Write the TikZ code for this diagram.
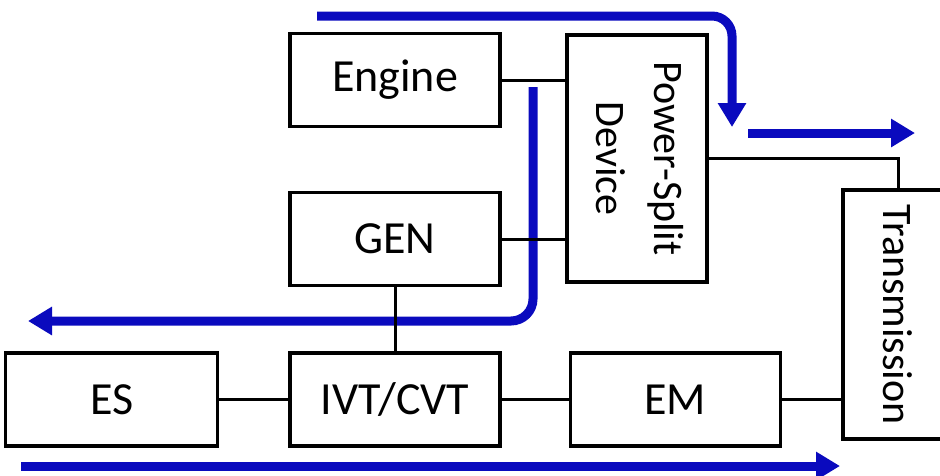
\documentclass[tikz,border=0pt]{standalone}
\usepackage{fontspec}
\setmainfont{Carlito}
\usetikzlibrary{arrows.meta,positioning}
\definecolor{flowblue}{HTML}{0A0ABE}

\begin{document}
\begin{tikzpicture}[
  x=1pt,y=-1pt,
  every node/.style={font=\fontsize{46}{55}\selectfont},
  blk/.style={draw,line width=3.2pt,minimum width=210pt,minimum height=93pt,inner sep=0pt},
  vtext/.style={font=\fontsize{42}{58}\selectfont},
  wire/.style={line width=3pt},
  flow/.style={flowblue,line width=9pt,-{Triangle[length=24pt,width=27pt]}}
]
\path[use as bounding box,clip] (0,0) rectangle (940,475);

\node[blk] (engine) at (395,80) {Engine};
\node[blk,below=63pt of engine] (gen) {GEN};
\node[blk,below=64pt of gen] (ivt) {IVT/CVT};
\node[blk,minimum width=212pt,left=69pt of ivt] (es) {ES};
\node[blk,right=67pt of ivt] (em) {EM};
\node[blk,vtext,minimum width=140pt,minimum height=247pt] (psd) at (637,158.5)
  {\rotatebox{-90}{\begin{tabular}{@{}c@{}}Power-Split\\Device\end{tabular}}};
\node[blk,vtext,minimum width=110pt,minimum height=249pt] (trans) at (898,314.5)
  {\rotatebox{-90}{Transmission}};

% power flow arrows
\coordinate (topstart) at (317,16);
\coordinate (topend) at (732,127);
\coordinate (outstart) at (748,133);
\coordinate (outend) at (915,133);
\coordinate (genstart) at (533,87);
\coordinate (genend) at (28,321);
\coordinate (lowstart) at (21,466);
\coordinate (lowend) at (840,466);
\draw[flow,rounded corners=20pt] (topstart) -| (topend);
\draw[flow] (outstart) -- (outend);
\draw[flow,rounded corners=22pt] (genstart) |- (genend);
\draw[flow] (lowstart) -- (lowend);

% shafts
\draw[wire] (engine.east) -- (engine.east -| psd.west);
\draw[wire] (gen.east) -- (gen.east -| psd.west);
\draw[wire] (gen) -- (ivt);
\draw[wire] (es) -- (ivt);
\draw[wire] (ivt) -- (em);
\draw[wire] (em.east) -- (em.east -| trans.west);
\draw[wire] (psd.east) -| (trans.north);
\end{tikzpicture}
\end{document}
